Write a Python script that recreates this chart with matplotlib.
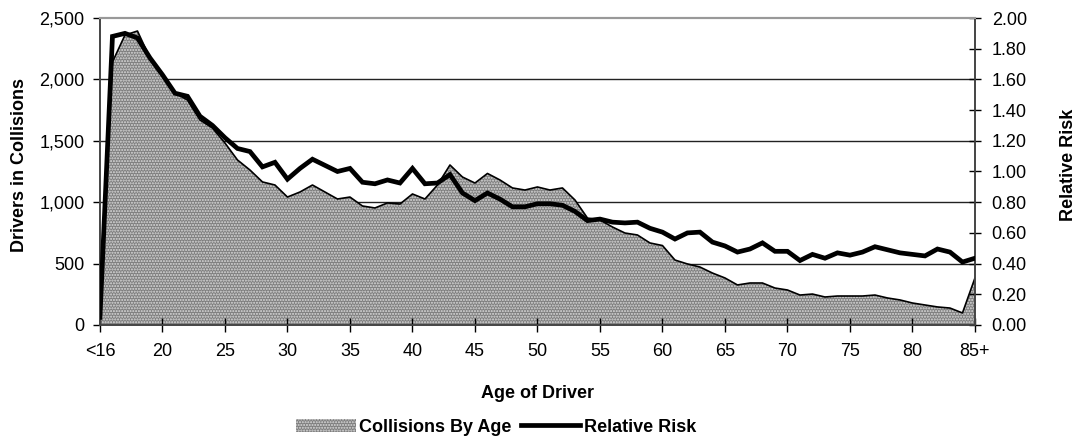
import numpy as np
import matplotlib
matplotlib.use('agg')
import matplotlib.pyplot as plt
from matplotlib.ticker import FuncFormatter, MultipleLocator

plt.rcParams['font.family'] = ['Liberation Sans', 'DejaVu Sans']
plt.rcParams['hatch.linewidth'] = 1.0

# ages <16, 16 ... 84, 85+
age_labels = ['<16'] + [str(a) for a in range(16, 85)] + ['85+']
x = np.arange(15, 86)

collisions = [180, 2142, 2361, 2394, 2174, 2036, 1890, 1832, 1670, 1604,
              1482, 1344, 1262, 1165, 1140, 1042, 1083, 1140, 1083, 1026,
              1042, 969, 953, 994, 985, 1067, 1026, 1140, 1303, 1205,
              1156, 1234, 1181, 1116, 1099, 1124, 1099, 1116, 1018, 871,
              855, 798, 749, 733, 668, 647, 529, 497, 472, 423,
              383, 326, 342, 342, 301, 285, 244, 252, 228, 236,
              236, 236, 244, 220, 204, 179, 163, 147, 138, 98,
              383]

relative_risk = [0.05, 1.88, 1.90, 1.87, 1.74, 1.63, 1.51, 1.49, 1.36, 1.30,
                 1.22, 1.15, 1.13, 1.03, 1.06, 0.95, 1.02, 1.08, 1.04, 1.00,
                 1.02, 0.93, 0.92, 0.945, 0.925, 1.02, 0.92, 0.925, 0.98, 0.86,
                 0.81, 0.86, 0.82, 0.77, 0.77, 0.79, 0.79, 0.78, 0.74, 0.68,
                 0.69, 0.67, 0.665, 0.67, 0.63, 0.605, 0.56, 0.60, 0.605, 0.54,
                 0.515, 0.475, 0.495, 0.535, 0.48, 0.48, 0.42, 0.46, 0.435, 0.47,
                 0.455, 0.475, 0.51, 0.49, 0.47, 0.46, 0.45, 0.495, 0.475, 0.41,
                 0.435]

tick_ages = [15, 20, 25, 30, 35, 40, 45, 50, 55, 60, 65, 70, 75, 80, 85]

fig = plt.figure(figsize=(10.76, 4.38), dpi=100)
ax = fig.add_axes([0.0929, 0.258, 0.8132, 0.7009])
ax2 = ax.twinx()

# gridlines
for v in [500, 1000, 1500, 2000]:
    ax.axhline(v, color='#222222', lw=1.0, zorder=0.5)

area = ax.fill_between(x, collisions, 0, facecolor='#7e7e7e', edgecolor='#dcdcdc',
                       hatch='......', lw=0, zorder=1, label='Collisions By Age')
ax.plot(x, collisions, color='black', lw=1.2, zorder=2)

risk_line, = ax2.plot(x, relative_risk, color='black', lw=3.4, zorder=3,
                      solid_joinstyle='miter', label='Relative Risk')

ax.set_xlim(15, 85)
ax.set_ylim(0, 2500)
ax2.set_ylim(0, 2.0)

ax.yaxis.set_major_locator(MultipleLocator(500))
ax.yaxis.set_major_formatter(FuncFormatter(lambda v, p: '{:,.0f}'.format(v)))
ax2.yaxis.set_major_locator(MultipleLocator(0.2))
ax2.yaxis.set_major_formatter(FuncFormatter(lambda v, p: '{:.2f}'.format(v)))

ax.set_xticks(tick_ages)
ax.set_xticklabels([age_labels[a - 15] for a in tick_ages])

ax.tick_params(axis='x', which='major', direction='inout', length=10, width=1,
               labelsize=13, pad=8)
ax.tick_params(axis='y', direction='out', length=5, width=1, labelsize=13, pad=6)
ax2.tick_params(axis='y', direction='inout', length=8, width=1, labelsize=13, pad=8)

for a in (ax, ax2):
    a.spines['top'].set_color('#999999')
    a.spines['top'].set_linewidth(1.5)
    for s in ['left', 'right', 'bottom']:
        a.spines[s].set_color('#444444')
        a.spines[s].set_linewidth(1.2)

ax.set_xlabel('Age of Driver', fontweight='bold', fontsize=13)
ax.xaxis.set_label_coords(0.5, -0.195)
ax.set_ylabel('Drivers in Collisions', fontweight='bold', fontsize=13)
ax.yaxis.set_label_coords(-0.0823, 0.52)
ax2.set_ylabel('Relative Risk', fontweight='bold', fontsize=13)
ax2.yaxis.set_label_coords(1.097, 0.52)

handles = [area, risk_line]
leg = fig.legend(handles, ['Collisions By Age', 'Relative Risk'], loc='center',
                 bbox_to_anchor=(0.461, 0.025), ncol=2, frameon=False,
                 prop={'weight': 'bold', 'size': 13}, handlelength=3.3,
                 handletextpad=0.2, columnspacing=0.5)

fig.savefig('out.png', dpi=100)
